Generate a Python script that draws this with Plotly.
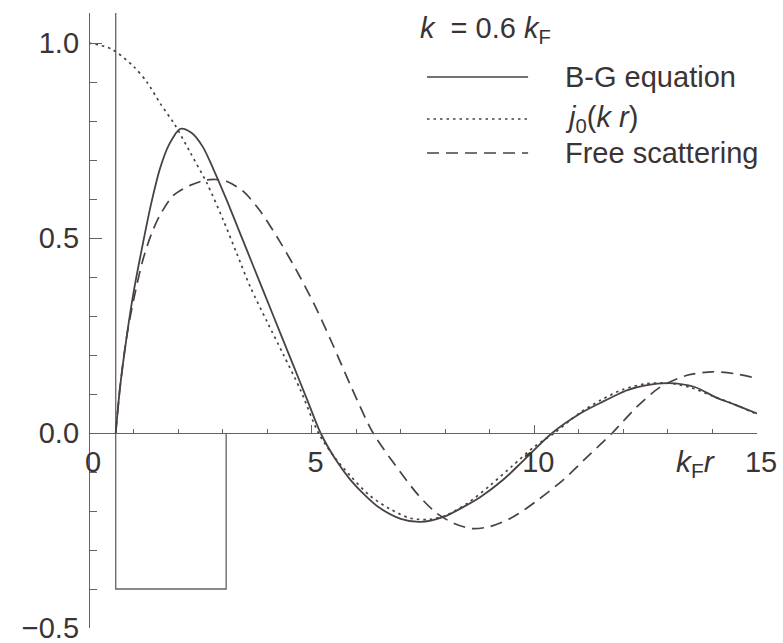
import plotly.graph_objects as go

# Wave functions versus k_F r for k = 0.6 k_F
bg_x = [0.6, 0.7, 0.85, 1.0, 1.2, 1.4, 1.6, 1.8, 2.05, 2.3, 2.55, 2.8, 3.1, 3.4,
        3.7, 4.0, 4.3, 4.6, 4.9, 5.2, 5.55, 5.87, 6.2, 6.5, 7.0, 7.44, 7.96, 8.4,
        8.79, 9.3, 9.76, 10.4, 11.03, 11.48, 12.09, 12.5, 13.0, 13.6, 14.1, 14.5, 15.0]
bg_y = [0.0, 0.12, 0.25, 0.36, 0.48, 0.59, 0.68, 0.74, 0.78, 0.77, 0.735, 0.675, 0.595, 0.51,
        0.425, 0.34, 0.255, 0.17, 0.085, 0.0, -0.07, -0.12, -0.16, -0.19, -0.22, -0.228, -0.215, -0.19,
        -0.164, -0.12, -0.07, 0.0, 0.05, 0.077, 0.11, 0.122, 0.128, 0.118, 0.09, 0.073, 0.05]

j0_x = [0.0, 0.5, 1.0, 1.3, 1.6, 1.93, 2.27, 2.65, 3.0, 3.32, 3.62, 4.0, 4.37, 4.75,
        5.15, 5.5, 5.87, 6.3, 6.76, 7.2, 7.6, 8.0, 8.5, 9.0, 9.5, 10.0, 10.45, 11.0,
        11.5, 12.0, 12.5, 13.0, 13.5, 14.0, 14.5, 15.0]
j0_y = [1.0, 0.985, 0.94, 0.90, 0.845, 0.79, 0.72, 0.64, 0.55, 0.46, 0.375, 0.285, 0.2, 0.11,
        0.0, -0.06, -0.11, -0.16, -0.195, -0.218, -0.222, -0.212, -0.18, -0.135, -0.085, -0.035, 0.0, 0.05,
        0.085, 0.112, 0.126, 0.128, 0.117, 0.095, 0.073, 0.048]

free_x = [0.6, 0.7, 0.85, 1.0, 1.2, 1.4, 1.6, 1.9, 2.27, 2.6, 2.85, 3.1, 3.46, 3.84,
          4.29, 4.74, 5.1, 5.48, 5.9, 6.38, 6.99, 7.4, 7.8, 8.2, 8.6, 9.0, 9.53, 10.1,
          10.65, 11.2, 11.75, 12.3, 12.83, 13.43, 14.0, 14.5, 15.0]
free_y = [0.0, 0.12, 0.25, 0.34, 0.44, 0.51, 0.56, 0.61, 0.635, 0.648, 0.65, 0.645, 0.62, 0.57,
          0.49, 0.40, 0.32, 0.225, 0.115, 0.0, -0.10, -0.16, -0.205, -0.232, -0.245, -0.24, -0.215, -0.17,
          -0.12, -0.06, 0.0, 0.067, 0.118, 0.148, 0.157, 0.152, 0.14]

# Hard core plus square-well potential (schematic)
Y_TOP = 1.077
well_x = [0.6, 0.6, 3.08, 3.08]
well_y = [Y_TOP, -0.4, -0.4, 0.0]

x_tickvals = [0, 5, 10, 15]
x_ticktext = ["0", "5", "10", "15"]
y_tickvals = [-0.5, 0.0, 0.5, 1.0]
y_ticktext = ["\u22120.5", "0.0", "0.5", "1.0"]

INK = "#4a4242"
AXIS = "#6a6060"
TEXT = "#3a3434"
FONT = "Liberation Sans"

W, H = 783, 643
X0_PX, X15_PX = 89, 757
Y_TOP_PX, Y_BOT_PX = 13, 628
Y0_PX = 433

fig = go.Figure()
fig.add_trace(go.Scatter(x=well_x, y=well_y, mode="lines",
                         line=dict(color=AXIS, width=1.3), hoverinfo="skip", showlegend=False))
fig.add_trace(go.Scatter(x=j0_x, y=j0_y, mode="lines", name="j0(kr)",
                         line=dict(color=INK, width=1.7, dash="2.5px,4px", shape="spline", smoothing=0.8),
                         showlegend=False))
fig.add_trace(go.Scatter(x=free_x, y=free_y, mode="lines", name="Free scattering",
                         line=dict(color=INK, width=1.7, dash="12px,7px", shape="spline", smoothing=0.8),
                         showlegend=False))
fig.add_trace(go.Scatter(x=bg_x, y=bg_y, mode="lines", name="B-G equation",
                         line=dict(color=INK, width=1.8, shape="spline", smoothing=0.8),
                         showlegend=False))

# Legend drawn by hand: line samples and labels
leg_x0, leg_x1, leg_tx = 7.59, 9.86, 10.64
rows = [(0.913, "solid", "B-G equation"),
        (0.805, "2.5px,4px", "<i>j</i><sub>0</sub>(<i>k r</i>)"),
        (0.718, "12px,7px", "Free scattering")]
for yy, dash, label in rows:
    fig.add_shape(type="line", xref="x", yref="y", x0=leg_x0, x1=leg_x1, y0=yy, y1=yy,
                  line=dict(color=INK, width=1.6, dash=dash))
    fig.add_annotation(x=leg_tx, y=yy, xref="x", yref="y", text=label, showarrow=False,
                       xanchor="left", yanchor="middle", font=dict(family=FONT, size=29, color=TEXT))

fig.add_annotation(x=7.39, y=1.033, xref="x", yref="y",
                   text="<i>k</i>&nbsp;&nbsp;= 0.6&nbsp;<i>k</i><sub>F</sub>", showarrow=False,
                   xanchor="left", yanchor="middle", font=dict(family=FONT, size=29, color=TEXT))
fig.add_annotation(x=13.63, y=-0.077, xref="x", yref="y",
                   text="<i>k</i><sub>F</sub><i>r</i>", showarrow=False,
                   xanchor="center", yanchor="middle", font=dict(family=FONT, size=30, color=TEXT))

fig.update_layout(
    template="none",
    width=W, height=H,
    margin=dict(l=0, r=0, t=0, b=0, autoexpand=False),
    paper_bgcolor="white", plot_bgcolor="white",
    showlegend=False,
    xaxis=dict(domain=[X0_PX / W, X15_PX / W], range=[0, 15],
               anchor="free", position=(H - Y0_PX) / H, automargin=False,
               showline=True, linecolor=AXIS, linewidth=1.3,
               showgrid=False, zeroline=False,
               ticks="inside", ticklen=8, tickwidth=1.2, tickcolor=AXIS,
               tickvals=x_tickvals, ticktext=x_ticktext,
               minor=dict(ticks="inside", dtick=1, ticklen=4, tickwidth=1, tickcolor=AXIS),
               tickfont=dict(family=FONT, size=29, color=TEXT),
               ticklabelstandoff=3, ticklabelshift=4, ticklabeloverflow="allow"),
    yaxis=dict(domain=[(H - Y_BOT_PX) / H, (H - Y_TOP_PX) / H], range=[-0.5, Y_TOP],
               anchor="free", position=X0_PX / W, automargin=False,
               showline=True, linecolor=AXIS, linewidth=1.3,
               showgrid=False, zeroline=False,
               ticks="inside", ticklen=12, tickwidth=1.2, tickcolor=AXIS,
               tickvals=y_tickvals, ticktext=y_ticktext,
               minor=dict(ticks="inside", dtick=0.1, tick0=0, ticklen=7, tickwidth=1, tickcolor=AXIS),
               tickfont=dict(family=FONT, size=29, color=TEXT),
               ticklabelstandoff=4, ticklabeloverflow="allow"),
)

fig.write_html("out.html", config={"displayModeBar": False})
